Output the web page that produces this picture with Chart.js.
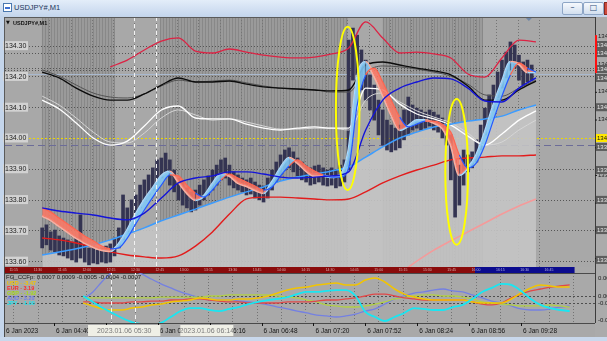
<!DOCTYPE html>
<html>
<head>
<meta charset="utf-8">
<script src="https://cdn.jsdelivr.net/npm/chart.js@4.4.1/dist/chart.umd.min.js"></script>
<style>
  html, body { margin:0; padding:0; width:607px; height:341px; overflow:hidden; background:#c4d5eb; }
  #titlebar { position:absolute; left:0; top:0; width:607px; height:16px; background:linear-gradient(#e3edf9,#c5d6ed); }
  #ttl { position:absolute; left:14px; top:3px; font:7.5px "Liberation Sans", Arial, sans-serif; color:#1d355a; }
  #ico { position:absolute; left:3px; top:3px; width:7px; height:7px; background:#fff; border:1px solid #4a78b0; }
  #ico i { position:absolute; left:1px; top:3px; width:5px; height:2px; background:#3d6fd0; }
  .btn { position:absolute; top:2px; width:19px; height:11px; border:1px solid #8ea6c6; border-radius:2px; background:linear-gradient(#f6f9fd,#d2dfef); font:8px "DejaVu Sans", sans-serif; color:#34507a; text-align:center; line-height:10px; }
  #cls { position:absolute; left:604px; top:2px; width:6px; height:11px; background:#cc4a3c; border:1px solid #8a2a22; }
  #c1 { position:absolute; left:0; top:17px; }
  #c2 { position:absolute; left:0; top:267px; }
  #bottom { position:absolute; left:0; top:337px; width:607px; height:4px; background:#c9d8ec; }
</style>
</head>
<body>
<div id="titlebar"><div id="ico"><i></i></div><div id="ttl">USDJPY#,M1</div>
<div class="btn" style="left:562px">–</div><div class="btn" style="left:583px">□</div><div id="cls"></div></div>
<canvas id="c1" width="607" height="250"></canvas>
<canvas id="c2" width="607" height="70"></canvas>
<div id="bottom"></div>
<script>
// ================= DATA =================
// time = minutes after 00:00 on 6 Jan 2023
const candleStart = 250, candleStep = 3;   // bars from 04:10
const lineStart = 250, fastStep = 6, slowStep = 12;

const candleHigh = [133.708,133.718,133.695,133.701,133.682,133.675,133.669,133.662,133.675,133.750,
133.653,133.643,133.649,133.636,133.643,133.649,133.656,133.675,133.708,133.815,
133.773,133.799,133.815,133.847,133.864,133.880,133.903,133.929,133.935,133.951,
133.929,133.896,133.870,133.857,133.838,133.825,133.831,133.847,133.864,133.877,
133.896,133.912,133.929,133.935,133.912,133.890,133.880,133.870,133.864,133.870,
133.857,133.847,133.844,133.870,133.896,133.922,133.945,133.961,133.968,133.955,
133.935,133.922,133.909,133.903,133.909,133.912,133.903,133.896,133.903,133.896,
133.912,133.929,134.318,134.357,134.334,134.286,134.253,134.205,134.172,134.123,
134.091,134.058,134.042,134.032,134.042,134.091,134.133,134.107,134.097,134.091,
134.084,134.091,134.084,134.075,134.065,134.052,134.010,133.929,133.912,133.961,
133.945,133.955,133.994,134.042,134.097,134.140,134.172,134.214,134.253,134.279,
134.312,134.302,134.269,134.247,134.253,134.237];
const candleLow = [133.643,133.653,133.636,133.630,133.620,133.617,133.610,133.604,133.597,133.610,
133.597,133.588,133.594,133.591,133.597,133.594,133.597,133.617,133.643,133.669,
133.695,133.727,133.750,133.773,133.799,133.815,133.831,133.857,133.870,133.890,
133.847,133.825,133.799,133.782,133.773,133.760,133.766,133.782,133.799,133.815,
133.831,133.847,133.864,133.870,133.847,133.838,133.831,133.825,133.815,133.818,
133.805,133.799,133.792,133.805,133.831,133.857,133.880,133.896,133.903,133.890,
133.877,133.864,133.857,133.847,133.851,133.857,133.847,133.844,133.847,133.838,
133.844,133.857,133.896,134.188,134.205,134.156,134.123,134.091,134.058,134.010,
133.977,133.961,133.955,133.961,133.968,133.994,134.010,134.026,134.032,134.026,
134.032,134.039,134.026,134.019,134.000,133.977,133.864,133.743,133.782,133.847,
133.890,133.903,133.922,133.961,134.010,134.058,134.091,134.130,134.162,134.195,
134.221,134.227,134.188,134.172,134.182,134.188];

// slow lines (12-min samples)
const redTop = [null,null,null,null,134.231,134.253,134.286,134.315,134.325,134.282,134.276,134.289,134.279,134.269,134.263,134.260,134.263,134.273,134.292,134.377,134.325,134.276,134.279,134.273,134.260,134.208,134.198,134.260,134.318,134.312];
const blackMA = [134.214,134.195,134.162,134.136,134.123,134.123,134.143,134.172,134.195,134.182,134.182,134.185,134.175,134.166,134.162,134.159,134.156,134.153,134.156,134.237,134.247,134.237,134.227,134.218,134.205,134.169,134.123,134.123,134.156,134.185];
const grayMA = [134.221,134.201,134.172,134.146,134.133,134.130,134.143,134.169,134.188,134.182,134.185,134.188,134.179,134.169,134.162,134.159,134.156,134.149,134.149,134.214,134.234,134.231,134.224,134.214,134.201,134.175,134.140,134.136,134.162,134.188];
const whiteMA = [134.123,134.094,134.049,134.000,133.977,133.990,134.039,134.091,134.104,134.065,134.062,134.062,134.045,134.032,134.026,134.032,134.036,134.032,134.032,134.162,134.156,134.110,134.078,134.062,134.042,134.006,133.977,134.013,134.058,134.088];
const silverMA = [134.136,134.107,134.065,134.019,133.987,133.984,134.016,134.065,134.091,134.075,134.058,134.062,134.052,134.039,134.029,134.029,134.032,134.032,134.026,134.123,134.146,134.117,134.088,134.068,134.049,134.016,133.977,133.987,134.026,134.058];
const blueMA = [133.773,133.763,133.756,133.750,133.740,133.734,133.756,133.805,133.854,133.870,133.877,133.890,133.890,133.883,133.873,133.870,133.873,133.877,133.890,134.026,134.123,134.162,134.182,134.195,134.192,134.162,134.120,134.117,134.162,134.195];
const skyMA = [133.620,133.630,133.640,133.653,133.669,133.688,133.708,133.731,133.750,133.769,133.789,133.808,133.825,133.841,133.860,133.873,133.883,133.893,133.906,133.938,133.971,134.000,134.019,134.036,134.045,134.055,134.062,134.071,134.091,134.107];
const redMA = [133.675,133.669,133.659,133.646,133.630,133.620,133.614,133.610,133.617,133.649,133.695,133.753,133.802,133.808,133.808,133.805,133.802,133.799,133.802,133.825,133.854,133.877,133.896,133.912,133.929,133.935,133.938,133.942,133.942,133.945];
const pinkBand = [null,null,null,null,null,null,null,null,null,null,null,null,null,null,null,null,null,null,null,null,null,133.560,133.600,133.636,133.666,133.695,133.724,133.753,133.779,133.802];

// fast ribbon (6-min samples)
const ribFast = [133.747,133.734,133.714,133.695,133.675,133.659,133.646,133.636,133.633,133.656,
133.701,133.753,133.799,133.838,133.877,133.890,133.857,133.821,133.799,133.812,
133.851,133.883,133.877,133.854,133.844,133.831,133.821,133.857,133.903,133.935,
133.919,133.893,133.877,133.877,133.873,133.880,133.961,134.195,134.247,134.201,
134.140,134.075,134.026,134.039,134.058,134.058,134.049,134.032,133.977,133.880,
133.903,133.945,134.019,134.107,134.182,134.247,134.240,134.214,134.214];
const ribSlow = [133.773,133.760,133.740,133.721,133.701,133.682,133.666,133.649,133.640,133.643,
133.675,133.721,133.766,133.808,133.847,133.880,133.877,133.847,133.821,133.808,
133.831,133.864,133.883,133.870,133.857,133.844,133.831,133.841,133.877,133.909,
133.929,133.909,133.893,133.880,133.873,133.873,133.903,134.107,134.205,134.227,
134.182,134.123,134.068,134.036,134.045,134.055,134.055,134.045,134.019,133.945,
133.903,133.919,133.977,134.058,134.136,134.205,134.244,134.227,134.214];

// currency strength indicator (6-min samples)
const N8 = [null,null,null,null,null,null,null,null];
const usdLine = N8.concat([-0.00020,-0.00037,-0.00054,-0.00060,-0.00060,-0.00049,-0.00043,-0.00031,-0.00026,-0.00014,
-0.00009,-0.00003,0.00009,0.00003,-0.00003,-0.00003,0.00003,0.00003,0.00009,0.00020,
0.00037,0.00054,0.00066,0.00071,0.00083,0.00089,0.00094,0.00083,0.00083,0.00111,
0.00123,0.00100,0.00060,0.00031,0.00014,0.00003,-0.00003,-0.00003,-0.00003,-0.00003,
-0.00014,-0.00020,-0.00020,-0.00020,0.00003,0.00037,0.00066,0.00083,0.00077,0.00071,0.00071]);
const eurLine = N8.concat([-0.00014,-0.00014,-0.00020,-0.00020,-0.00020,-0.00014,-0.00014,-0.00009,-0.00009,-0.00003,
-0.00003,0.00003,0.00003,-0.00003,-0.00009,-0.00014,-0.00014,-0.00020,-0.00020,-0.00020,
-0.00020,-0.00014,-0.00014,-0.00014,-0.00009,-0.00003,-0.00003,0.00003,0.00009,0.00020,
0.00031,0.00031,0.00020,0.00009,0.00003,-0.00003,-0.00003,-0.00003,-0.00003,-0.00003,
-0.00014,-0.00026,-0.00031,-0.00020,0.00009,0.00031,0.00049,0.00060,0.00071,0.00077,0.00083]);
const gbpLine = N8.concat([0.00009,0.00009,0.00009,0.00009,0.00009,0.00009,0.00009,0.00009,0.00014,0.00014,
0.00014,0.00014,0.00014,0.00020,0.00020,0.00026,0.00026,0.00026,0.00026,0.00026,
0.00020,0.00014,0.00009,-0.00003,-0.00014,-0.00031,-0.00037,-0.00043,-0.00043,-0.00037,
-0.00026,-0.00014,0.00003,0.00014,0.00020,0.00026,0.00026,0.00020,0.00020,0.00014,
0.00003,-0.00014,-0.00020,-0.00026,-0.00031,-0.00037,-0.00037,-0.00037,-0.00031,-0.00037,-0.00043]);
const audLine = N8.concat([0.00003,0.00043,0.00106,0.00157,0.00180,0.00168,0.00146,0.00117,0.00089,0.00066,
0.00043,0.00026,0.00009,-0.00003,-0.00003,-0.00003,-0.00009,-0.00014,-0.00020,-0.00031,
-0.00043,-0.00054,-0.00066,-0.00077,-0.00089,-0.00094,-0.00100,-0.00094,-0.00083,-0.00066,
-0.00054,-0.00026,0.00003,0.00020,0.00037,0.00043,0.00054,0.00060,0.00049,0.00043,
0.00026,0.00009,-0.00009,-0.00020,-0.00037,-0.00054,-0.00060,-0.00060,-0.00054,-0.00043,-0.00037]);
const jpyLine = N8.concat([0.00020,-0.00014,-0.00049,-0.00077,-0.00106,-0.00129,-0.00140,-0.00146,-0.00134,-0.00100,
-0.00066,-0.00049,-0.00049,-0.00060,-0.00066,-0.00054,-0.00043,-0.00026,-0.00014,-0.00003,
0.00003,0.00014,0.00031,0.00043,0.00043,0.00049,0.00054,0.00054,0.00020,-0.00071,
-0.00100,-0.00123,-0.00100,-0.00077,-0.00049,-0.00054,-0.00060,-0.00060,-0.00043,-0.00031,
0.00003,0.00043,0.00066,0.00089,0.00083,0.00049,0.00003,-0.00031,-0.00049,-0.00060,-0.00066]);

const legendTitle = 'FG_CCFp: 0.0007 0.0009 -0.0005 -0.0004 -0.0007';
const currencies = ['USD','EUR','GBP','AUD','JPY'];
const strengths = ['-3.47','3.19','-1.92','3.20','-1.00'];
const currencyColors = ['#f2c400','#ff2a2a','#a6d81e','#6e7cf0','#19e6f2'];

// axis / levels
const priceGridLevels = [134.30,134.20,134.10,134.00,133.90,133.80,133.70,133.60];
const extraDotLevels = [134.276,134.227,134.221];
const yellowLevel = 134.00, dashLevel = 133.977, paleLevel = 134.208;
const rightAxisTicks = [134.330,134.240,134.150,134.060,133.970,133.880,133.790,133.700,133.610];
const rightBoxLevels = [134.302,134.276,134.224,134.195,134.100,133.971,133.896,133.799,133.701,133.604];
const timeLabelTimes = [280,312,344,376,408,440,472,504,536,568];
const vLineTimes = [315,330];
const axisBoxes = [{from:301,to:345.6,text:'2023.01.06 05:30'},{from:357.9,to:390.6,text:'2023.01.06 06:14'}];
const stripeSpans = [[249.8,301],[333,465.5],[490,560]];
const sessionSpans = [{from:249.8,to:539.6,color:'#8a0b0b'},{from:539.6,to:601,color:'#0b0b8e'}];
const ellipseNotes = [{t:465.3,p:134.096,dt:8.3,dp:0.265},{t:542.1,p:133.890,dt:8.0,dp:0.237}];
const indLevels = [0.0002,-0.0002];
const indAxisLabels = [0.0012,0.0002,-0.0002,-0.0012];

const X_MIN = 249.8, X_MAX = 613.6;
const gridTimes = []; for (let t = 255; t <= X_MAX; t += 15) gridTimes.push(t);

// ================= HELPERS =================
const candleTimes = candleHigh.map((_, i) => candleStart + i * candleStep);
const fastTimes = ribFast.map((_, i) => lineStart + i * fastStep);
const slowTimes = blackMA.map((_, i) => lineStart + i * slowStep);
const xy = (times, vals) => vals.map((v, i) => ({x: times[i], y: v}));
function hhmm(t){ const h = Math.floor(t/60), m = Math.round(t % 60); return String(h).padStart(2,'0') + ':' + String(m).padStart(2,'0'); }
const rising = i => ribFast[i] >= ribSlow[i];
const FONT = '"Liberation Sans", Arial, sans-serif';

function hLine(ctx, a, y, color, dash, w){
  ctx.save(); ctx.strokeStyle = color; ctx.lineWidth = w || 1; ctx.setLineDash(dash || []);
  const yy = Math.round(y) + 0.5;
  ctx.beginPath(); ctx.moveTo(a.left, yy); ctx.lineTo(a.right, yy); ctx.stroke(); ctx.restore();
}
function vLine(ctx, x, y0, y1, color, dash){
  ctx.save(); ctx.strokeStyle = color; ctx.lineWidth = 1; ctx.setLineDash(dash || []);
  const xx = Math.round(x) + 0.5;
  ctx.beginPath(); ctx.moveTo(xx, y0); ctx.lineTo(xx, y1); ctx.stroke(); ctx.restore();
}

// ================= PRICE PANEL =================
const priceDecor = {
  id: 'priceDecor',
  beforeDatasetsDraw(chart){
    const {ctx, chartArea: a, scales: {x, y}} = chart;
    ctx.save();
    ctx.fillStyle = '#c4d5eb'; ctx.fillRect(0, 0, a.left, chart.height);
    ctx.fillStyle = '#ababab'; ctx.fillRect(a.right, 0, chart.width - a.right, chart.height);
    ctx.fillStyle = '#a8a8a8'; ctx.fillRect(a.left, a.top, a.right - a.left, a.bottom - a.top);
    for (const [t0, t1] of stripeSpans){
      const x0 = Math.max(a.left, x.getPixelForValue(t0)), x1 = x.getPixelForValue(t1);
      ctx.fillStyle = '#9a9a9a'; ctx.fillRect(x0, a.top, x1 - x0, a.bottom - a.top);
      ctx.fillStyle = '#888888';
      for (let xx = Math.round(x0); xx < x1; xx += 3) ctx.fillRect(xx, a.top, 1, a.bottom - a.top);
    }
    for (const t of gridTimes){
      const xx = x.getPixelForValue(t);
      if (xx > a.left && xx < a.right) vLine(ctx, xx, a.top, a.bottom, '#747474', [1,2]);
    }
    for (const p of priceGridLevels) if (p !== yellowLevel) hLine(ctx, a, y.getPixelForValue(p), '#555', [1,2]);
    for (const p of extraDotLevels) hLine(ctx, a, y.getPixelForValue(p), '#555', [1,2]);
    hLine(ctx, a, y.getPixelForValue(paleLevel), '#a9b9cf', []);
    hLine(ctx, a, y.getPixelForValue(yellowLevel), '#ecd800', [2,2]);
    hLine(ctx, a, y.getPixelForValue(dashLevel), '#6c6c98', [7,4]);
    ctx.restore();
  },
  afterDatasetsDraw(chart){
    const {ctx, chartArea: a, scales: {x, y}} = chart;
    ctx.save();
    for (const t of vLineTimes) vLine(ctx, x.getPixelForValue(t), a.top, a.bottom, '#f2f2f2', [4,3]);
    // annotation ellipses
    ctx.strokeStyle = '#ffff00'; ctx.lineWidth = 2;
    for (const e of ellipseNotes){
      const cx = x.getPixelForValue(e.t), cy = y.getPixelForValue(e.p);
      const rx = x.getPixelForValue(e.t + e.dt) - cx, ry = cy - y.getPixelForValue(e.p + e.dp);
      ctx.beginPath(); ctx.ellipse(cx, cy, rx, ry, 0, 0, Math.PI * 2); ctx.stroke();
    }
    // left price labels
    ctx.font = '7px ' + FONT; ctx.textBaseline = 'middle';
    for (const p of priceGridLevels){
      const yy = y.getPixelForValue(p);
      ctx.fillStyle = 'rgba(214,214,214,0.9)'; ctx.fillRect(a.left - 2, yy - 4.5, 25, 9);
      ctx.fillStyle = '#1c1c1c'; ctx.textAlign = 'left'; ctx.fillText(p.toFixed(2), a.left, yy + 0.5);
    }
    // right axis
    ctx.fillStyle = '#3c3c3c'; ctx.fillRect(a.right, a.top, 1, a.bottom - a.top);
    ctx.font = '6px ' + FONT;
    for (const p of rightAxisTicks){
      const yy = y.getPixelForValue(p);
      ctx.fillStyle = '#1c1c1c'; ctx.fillRect(a.right, yy, 2, 1);
      ctx.fillText(p.toFixed(3), a.right + 3, yy);
    }
    for (const p of rightBoxLevels){
      const yy = y.getPixelForValue(p);
      ctx.fillStyle = '#5d5d5d'; ctx.fillRect(a.right + 1, yy - 4, 12, 8);
      ctx.fillStyle = '#e6e6e6'; ctx.fillText(p.toFixed(3), a.right + 2, yy);
    }
    {
      const yy = y.getPixelForValue(yellowLevel);
      ctx.fillStyle = '#ffe600'; ctx.fillRect(a.right + 1, yy - 4, 12, 8);
      ctx.fillStyle = '#111'; ctx.fillText(yellowLevel.toFixed(3), a.right + 2, yy);
    }
    ctx.fillStyle = '#ff1010';
    const ry0 = y.getPixelForValue(134.334), ry1 = y.getPixelForValue(134.211);
    ctx.fillRect(a.right, ry0, 2, ry1 - ry0);
    // top border, header, shift marker
    ctx.fillStyle = '#5a5a5a'; ctx.fillRect(a.left - 1, 0, a.right - a.left + 1, 1); ctx.fillRect(a.left - 1, 0, 1, chart.height);
    ctx.fillStyle = '#101010'; ctx.font = '5px "DejaVu Sans", sans-serif'; ctx.fillText('▼', a.left + 1, 6);
    ctx.font = 'bold 5.5px ' + FONT; ctx.fillText('USDJPY#,M1', a.left + 8, 6);
    const sx = x.getPixelForValue(593);
    ctx.fillStyle = '#6f86a6'; ctx.beginPath(); ctx.moveTo(sx - 3, 1); ctx.lineTo(sx + 3, 1); ctx.lineTo(sx, 4); ctx.closePath(); ctx.fill();
    ctx.restore();
  }
};

const lineDs = (label, times, vals, color, width, order, extra) => Object.assign({
  type: 'line', label, data: xy(times, vals), borderColor: color, borderWidth: width,
  pointRadius: 0, cubicInterpolationMode: 'monotone', fill: false, order, spanGaps: false
}, extra || {});

const priceChart = new Chart(document.getElementById('c1'), {
  type: 'line',
  data: { datasets: [
    lineDs('skyFill', slowTimes, skyMA, 'rgba(0,0,0,0)', 0, 100, {fill: 'start', backgroundColor: 'rgba(196,196,196,0.9)'}),
    { type: 'bar', label: 'USDJPY', data: candleHigh.map((h, i) => ({x: candleTimes[i], y: [candleLow[i], h]})),
      backgroundColor: '#343452', barThickness: 3, grouped: false, order: 90 },
    lineDs('redMA', slowTimes, redMA, '#e21c1c', 1.4, 60),
    lineDs('pink', slowTimes, pinkBand, '#f59a9a', 1.6, 60),
    lineDs('silver', slowTimes, silverMA, '#d6d6d6', 1, 58),
    lineDs('white', slowTimes, whiteMA, '#ffffff', 1.3, 57),
    lineDs('gray', slowTimes, grayMA, '#545454', 1, 56),
    lineDs('black', slowTimes, blackMA, '#0c0c0c', 1.4, 55),
    lineDs('redTop', slowTimes, redTop, '#dc2344', 1.3, 55),
    lineDs('sky', slowTimes, skyMA, '#3c9cff', 1.5, 45),
    lineDs('ribFast', fastTimes, ribFast, '#a8dcff', 2.5, 41, {segment: {borderColor: c => rising(c.p1DataIndex) ? '#a6dbff' : '#ffae9c'}}),
    lineDs('ribSlow', fastTimes, ribSlow, '#2458ff', 1.2, 40, {
      fill: {target: '-1', above: 'rgba(250,120,100,0.88)', below: 'rgba(130,200,245,0.88)'},
      segment: {borderColor: c => rising(c.p1DataIndex) ? '#2458ff' : '#ff6550'}}),
    lineDs('blueMA', slowTimes, blueMA, '#1414d8', 1.4, 30)
  ]},
  options: {
    responsive: false, animation: false, events: [],
    layout: { padding: {left: 5, right: 12, top: 0, bottom: 0} },
    plugins: { legend: {display: false}, tooltip: {enabled: false} },
    scales: {
      x: { type: 'linear', min: X_MIN, max: X_MAX, display: false },
      y: { type: 'linear', min: 133.581, max: 134.393, display: false }
    }
  },
  plugins: [priceDecor]
});

// ================= INDICATOR PANEL =================
const indDecor = {
  id: 'indDecor',
  beforeDatasetsDraw(chart){
    const {ctx, chartArea: a, scales: {x, y}} = chart;
    ctx.save();
    ctx.fillStyle = '#a9a9a9'; ctx.fillRect(0, 0, chart.width, chart.height);
    ctx.fillStyle = '#c4d5eb'; ctx.fillRect(0, 0, a.left - 1, chart.height);
    ctx.fillStyle = '#ababab'; ctx.fillRect(a.right, 0, chart.width - a.right, chart.height);
    for (const s of sessionSpans){
      const x0 = Math.max(a.left, x.getPixelForValue(s.from)), x1 = x.getPixelForValue(s.to);
      ctx.fillStyle = s.color; ctx.fillRect(x0, 0, x1 - x0, a.top);
    }
    ctx.font = '3.5px ' + FONT; ctx.textBaseline = 'middle'; ctx.textAlign = 'left';
    for (const t of gridTimes){
      const xx = x.getPixelForValue(t);
      if (xx < a.left || xx > x.getPixelForValue(601) - 6) continue;
      ctx.fillStyle = t < 539.6 ? '#d6b0b0' : '#b0b0e0';
      ctx.fillText(hhmm(t + 420), xx - 4, a.top / 2);
    }
    for (const t of gridTimes){
      const xx = x.getPixelForValue(t);
      if (xx > a.left && xx < a.right) vLine(ctx, xx, a.top, a.bottom, '#737373', [1,2]);
    }
    for (const v of indLevels) hLine(ctx, a, y.getPixelForValue(v), '#4e4e4e', [2,2]);
    ctx.fillStyle = '#4a4a4a';
    ctx.fillRect(a.left - 1, a.top, a.right - a.left + 1, 1);
    ctx.fillRect(a.left - 1, a.bottom, a.right - a.left + 1, 1);
    ctx.fillRect(a.left - 1, 0, 1, chart.height);
    ctx.restore();
  },
  afterDatasetsDraw(chart){
    const {ctx, chartArea: a, scales: {x, y}} = chart;
    ctx.save();
    for (const t of vLineTimes) vLine(ctx, x.getPixelForValue(t), a.top, a.bottom, '#f2f2f2', [4,3]);
    ctx.textBaseline = 'middle'; ctx.textAlign = 'left';
    ctx.font = '6px ' + FONT; ctx.fillStyle = '#161616';
    ctx.fillText(legendTitle, a.left + 1, a.top + 4.5);
    ctx.font = 'bold 5.5px ' + FONT;
    currencies.forEach((c, i) => {
      ctx.fillStyle = currencyColors[i];
      ctx.fillText(c + ' - ' + strengths[i], a.left + 2, a.top + 10.5 + i * 5);
    });
    ctx.fillStyle = '#3c3c3c'; ctx.fillRect(a.right, 0, 1, a.bottom);
    ctx.font = '6px ' + FONT; ctx.fillStyle = '#1c1c1c';
    for (const v of indAxisLabels) ctx.fillText(v.toFixed(4), a.right + 3, y.getPixelForValue(v));
    const ty = a.bottom + 8;
    ctx.fillStyle = '#141414'; ctx.font = '6.5px ' + FONT;
    ctx.fillText('6 Jan 2023', a.left + 1, ty);
    for (const t of timeLabelTimes){
      const xx = x.getPixelForValue(t);
      ctx.fillRect(Math.round(xx), a.bottom, 1, 3);
      ctx.fillText('6 Jan ' + hhmm(t), xx + 2, ty);
    }
    for (const b of axisBoxes){
      const x0 = x.getPixelForValue(b.from), x1 = x.getPixelForValue(b.to);
      ctx.fillStyle = '#efefe6'; ctx.fillRect(x0, a.bottom + 2, x1 - x0, 11);
      ctx.save(); ctx.beginPath(); ctx.rect(x0, a.bottom + 2, x1 - x0, 11); ctx.clip();
      ctx.fillStyle = '#7a7a7a'; ctx.font = '7px ' + FONT; ctx.textAlign = 'center';
      ctx.fillText(b.text, (x0 + x1) / 2 + (x1 - x0 < 50 ? 6 : 0), ty);
      ctx.restore();
    }
    ctx.restore();
  }
};

const indChart = new Chart(document.getElementById('c2'), {
  type: 'line',
  data: { datasets: [
    lineDs('JPY', fastTimes, jpyLine, currencyColors[4], 1.8, 1),
    lineDs('USD', fastTimes, usdLine, currencyColors[0], 1.5, 2),
    lineDs('EUR', fastTimes, eurLine, '#e04848', 1.3, 3),
    lineDs('GBP', fastTimes, gbpLine, '#b2d046', 1.3, 4),
    lineDs('AUD', fastTimes, audLine, '#7480e2', 1.3, 5)
  ]},
  options: {
    responsive: false, animation: false, events: [],
    layout: { padding: {left: 5, right: 12, top: 6, bottom: 14} },
    plugins: { legend: {display: false}, tooltip: {enabled: false} },
    scales: {
      x: { type: 'linear', min: X_MIN, max: X_MAX, display: false },
      y: { type: 'linear', min: -0.001343, max: 0.001514, display: false }
    }
  },
  plugins: [indDecor]
});
</script>
</body>
</html>
